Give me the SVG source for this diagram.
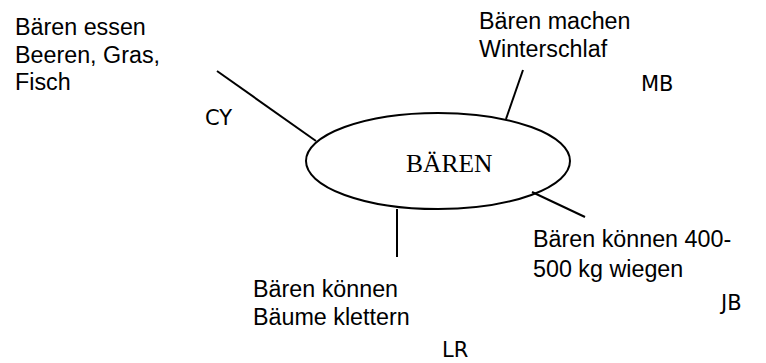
<svg xmlns="http://www.w3.org/2000/svg" width="766" height="363" viewBox="0 0 766 363">
<style>
.t{font-family:"Liberation Sans",Arial,sans-serif;font-size:23.3px;fill:#000}
.i{font-family:"DejaVu Sans","Liberation Sans",sans-serif;font-size:21px;fill:#000}
.c{font-family:"Liberation Serif","Times New Roman",serif;font-size:25.5px;fill:#000}
.l{stroke:#000;stroke-width:2;fill:none}
</style>
<rect width="766" height="363" fill="#fff"/>
<g id="connectors">
<line class="l" x1="217" y1="71" x2="316" y2="141"/>
<line class="l" x1="523" y1="70" x2="506" y2="119"/>
<line class="l" x1="532" y1="192" x2="585" y2="217"/>
<line class="l" x1="397" y1="209" x2="397" y2="257"/>
</g>
<g id="center">
<ellipse class="l" cx="438" cy="161" rx="132" ry="48"/>
<text class="c" x="406" y="172">BÄREN</text>
</g>
<g id="node-food">
<text class="t" x="15" y="35">Bären essen</text>
<text class="t" x="15" y="63">Beeren, Gras,</text>
<text class="t" x="15" y="90">Fisch</text>
</g>
<g id="node-sleep">
<text class="t" x="479" y="29">Bären machen</text>
<text class="t" x="479" y="57">Winterschlaf</text>
</g>
<g id="node-weight">
<text class="t" x="533" y="247">Bären können 400-</text>
<text class="t" x="533" y="277">500 kg wiegen</text>
</g>
<g id="node-climb">
<text class="t" x="253" y="297">Bären können</text>
<text class="t" x="253" y="325">Bäume klettern</text>
</g>
<g id="initials">
<text class="i" x="205" y="125">CY</text>
<text class="i" x="641" y="91">MB</text>
<text class="i" x="721" y="310">JB</text>
<text class="i" x="442" y="357">LR</text>
</g>
</svg>
